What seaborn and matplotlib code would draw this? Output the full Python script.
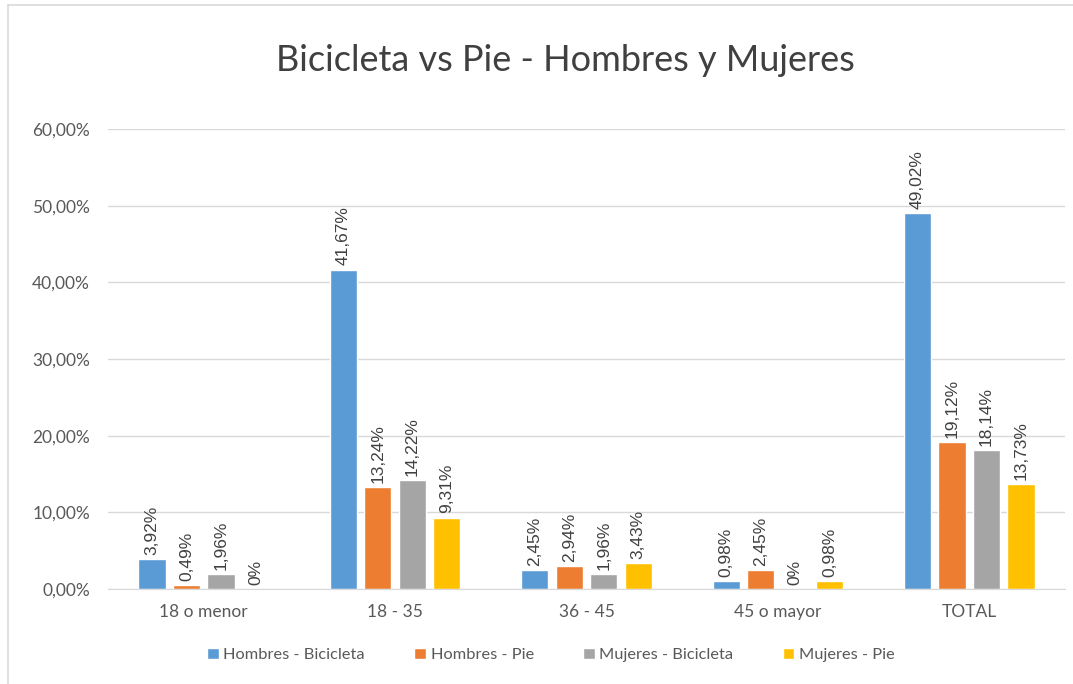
import matplotlib
matplotlib.use("Agg")
import matplotlib.pyplot as plt
from matplotlib.lines import Line2D
from matplotlib.ticker import FuncFormatter
import pandas as pd
import seaborn as sns

# === Datos ===
grupos = ["18 o menor", "18 - 35", "36 - 45", "45 o mayor", "TOTAL"]
series = ["Hombres - Bicicleta", "Hombres - Pie", "Mujeres - Bicicleta", "Mujeres - Pie"]
hombres_bici = [3.92, 41.67, 2.45, 0.98, 49.02]
hombres_pie = [0.49, 13.24, 2.94, 2.45, 19.12]
mujeres_bici = [1.96, 14.22, 1.96, 0.00, 18.14]
mujeres_pie = [0.00, 9.31, 3.43, 0.98, 13.73]
colores = ["#5B9BD5", "#ED7D31", "#A5A5A5", "#FFC000"]

valores = [hombres_bici, hombres_pie, mujeres_bici, mujeres_pie]
filas = []
for serie, vals in zip(series, valores):
    for g, v in zip(grupos, vals):
        filas.append({"Grupo": g, "Serie": serie, "Valor": v})
df = pd.DataFrame(filas)

sns.set_style("white")
plt.rcParams["font.family"] = ["Lato", "DejaVu Sans"]

fig = plt.figure(figsize=(10.73, 6.84), dpi=100)
ax = fig.add_axes([108 / 1073, 0.1389, 957 / 1073, 0.6725])

sns.barplot(data=df, x="Grupo", y="Valor", hue="Serie", palette=colores,
            order=grupos, hue_order=series, width=0.72, gap=0.21,
            saturation=1, ax=ax, legend=True)

def fmt(v):
    if v == 0:
        return "0%"
    return f"{v:.2f}%".replace(".", ",")

for cont in ax.containers:
    ax.bar_label(cont, labels=[fmt(b.get_height()) for b in cont],
                 rotation=90, padding=3, fontsize=12.5, color="#404040",
                 family=["Liberation Sans", "DejaVu Sans"])

ax.set_ylim(0, 60)
ax.set_yticks(range(0, 61, 10))
ax.yaxis.set_major_formatter(FuncFormatter(lambda y, p: f"{y:.2f}%".replace(".", ",")))
ax.set_xlim(-0.5, 4.5)
ax.grid(axis="y", color="#D9D9D9", linewidth=1)
ax.set_axisbelow(True)
for s in ["top", "right", "left"]:
    ax.spines[s].set_visible(False)
ax.spines["bottom"].set_color("#D9D9D9")
ax.tick_params(axis="y", length=0, labelsize=12.5, colors="#595959", pad=13)
ax.tick_params(axis="x", length=0, labelsize=12.5, colors="#595959", pad=11)
ax.set_xlabel("")
ax.set_ylabel("")

fig.text(565 / 1073, 0.912, "Bicicleta vs Pie - Hombres y Mujeres", ha="center", va="center",
         fontsize=26, color="#404040")

ax.legend(loc="center", bbox_to_anchor=(551 / 1073, 1 - 655 / 684),
          bbox_transform=fig.transFigure, ncol=4, frameon=False,
          fontsize=11.8, handlelength=0.7, handleheight=0.7, handletextpad=0.3,
          columnspacing=3.0, labelcolor="#595959")

# borde del grafico (solo izquierda y arriba visibles)
fig.add_artist(Line2D([8 / 1073, 8 / 1073], [0, 1 - 5 / 684], transform=fig.transFigure,
                      color="#D9D9D9", linewidth=1.2))
fig.add_artist(Line2D([8 / 1073, 1], [1 - 5 / 684, 1 - 5 / 684], transform=fig.transFigure,
                      color="#D9D9D9", linewidth=1.2))

plt.savefig("out.png", dpi=100)
plt.close()
